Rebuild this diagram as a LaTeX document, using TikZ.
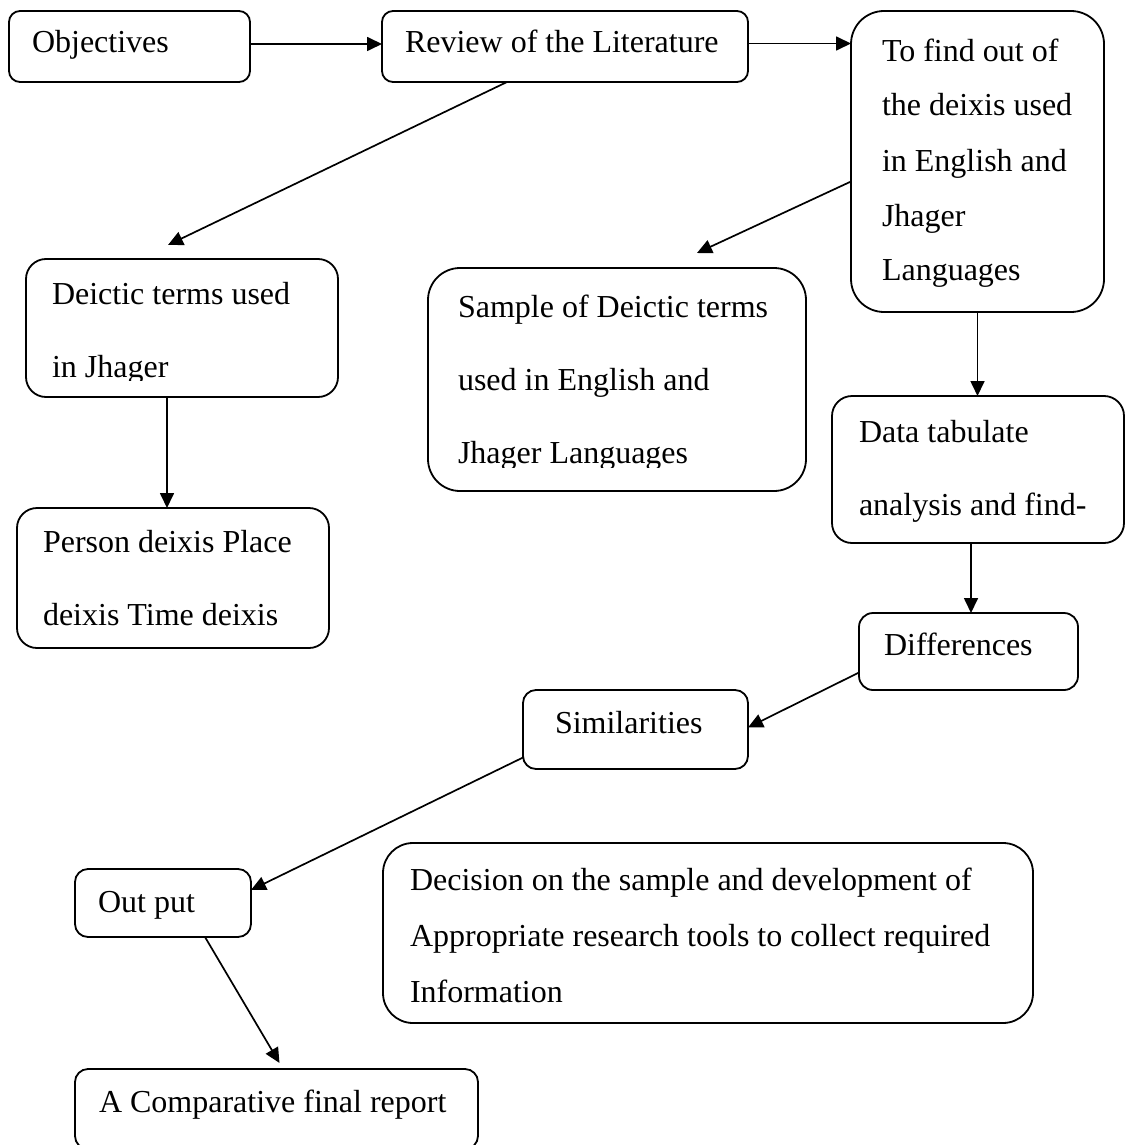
\documentclass[tikz,border=0pt]{standalone}
\usepackage{fontspec}
\setmainfont{Liberation Serif}
\usetikzlibrary{arrows.meta}
\begin{document}
\begin{tikzpicture}[x=1pt,y=-1pt,
  box/.style={draw, line width=1.8pt, outer sep=0pt, inner sep=0pt, anchor=north west},
  txt/.style={anchor=base west, inner sep=0pt, outer sep=0pt, font=\fontsize{32}{38}\selectfont},
  arr/.style={line width=1.7pt, -{Triangle[length=15pt,width=14pt]}}]
\useasboundingbox (0,0) rectangle (1126,1145);
% boxes
\node[box, rounded corners=11pt, minimum width=241pt, minimum height=71pt] (obj) at (9,11) {};
\node[box, rounded corners=11pt, minimum width=366pt, minimum height=71pt] (rev) at (382,11) {};
\node[box, rounded corners=33pt, minimum width=253pt, minimum height=301pt] (find) at (851,11) {};
\node[box, rounded corners=20pt, minimum width=312pt, minimum height=138pt] (deic) at (26,259) {};
\node[box, rounded corners=20pt, minimum width=312pt, minimum height=140pt] (pers) at (17,508) {};
\node[box, rounded corners=32pt, minimum width=378pt, minimum height=223pt] (samp) at (428,268) {};
\node[box, rounded corners=20pt, minimum width=292pt, minimum height=147pt] (data) at (832,396) {};
\node[box, rounded corners=14pt, minimum width=219pt, minimum height=77pt] (diff) at (859,613) {};
\node[box, rounded corners=13pt, minimum width=225pt, minimum height=79pt] (sim) at (523,690) {};
\node[box, rounded corners=13pt, minimum width=176pt, minimum height=68pt] (out) at (75,869) {};
\node[box, rounded corners=30pt, minimum width=650pt, minimum height=180pt] (dec) at (383,843) {};
\node[box, rounded corners=13pt, minimum width=403pt, minimum height=80pt] (comp) at (75,1069) {};
% texts
\node[txt] (objT) at (32,53) {Objectives};
\node[txt] (revT) at (405,53) {Review of the Literature};
\node[txt] (find1) at (882,62) {To find out of};
\node[txt] (find2) at (882,116) {the deixis used};
\node[txt] (find3) at (882,171) {in English and};
\node[txt] (find4) at (882,226) {Jhager};
\node[txt] (find5) at (882,280) {Languages};
\node[txt] (deic1) at (52,304) {Deictic terms used};
\begin{scope}
\clip (0,300) rectangle (400,380);
\node[txt] (deic2) at (52,377) {in Jhager};
\end{scope}
\node[txt] (pers1) at (43,552) {Person deixis Place};
\node[txt] (pers2) at (43,625) {deixis Time deixis};
\node[txt] (samp1) at (458,317) {Sample of Deictic terms};
\node[txt] (samp2) at (458,390) {used in English and};
\begin{scope}
\clip (430,400) rectangle (800,467);
\node[txt] (samp3) at (458,463) {Jhager Languages};
\end{scope}
\node[txt] (data1) at (859,442) {Data tabulate};
\node[txt] (data2) at (859,515) {analysis and find-};
\node[txt] (diffT) at (884,655) {Differences};
\node[txt] (simT) at (555,733) {Similarities};
\node[txt] (outT) at (98,912) {Out put};
\node[txt] (dec1) at (410,890) {Decision on the sample and development of};
\node[txt] (dec2) at (410,946) {Appropriate research tools to collect required};
\node[txt] (dec3) at (410,1002) {Information};
\node[txt] (compT) at (99,1112) {A Comparative final report};
% connectors
\draw[arr] ([yshift=2.5pt]obj.east) -- ([yshift=2.5pt]obj.east -| rev.west);
\draw[arr] ([yshift=3pt]rev.east) -- ([yshift=3pt]rev.east -| find.west);
\draw[arr] ([xshift=125pt]rev.south west) -- ([xshift=-14pt,yshift=14pt]deic.north);
\draw[arr] ([yshift=-20pt]find.west) -- ([xshift=-109pt,yshift=15pt]samp.north east);
\draw[arr] (find.south) -- (find.south |- data.north);
\draw[arr] ([xshift=-15pt]deic.south) -- ([xshift=-15pt]deic.south |- pers.north);
\draw[arr] ([xshift=-7pt]data.south) -- ([xshift=-7pt]data.south |- diff.north);
\draw[arr] ([yshift=-21pt]diff.west) -- ([yshift=2pt]sim.east);
\draw[arr] ([yshift=-28pt]sim.west) -- ([yshift=13pt]out.east);
\draw[arr] ([xshift=42pt]out.south) -- ([xshift=3pt,yshift=6pt]comp.north);
\end{tikzpicture}
\end{document}
